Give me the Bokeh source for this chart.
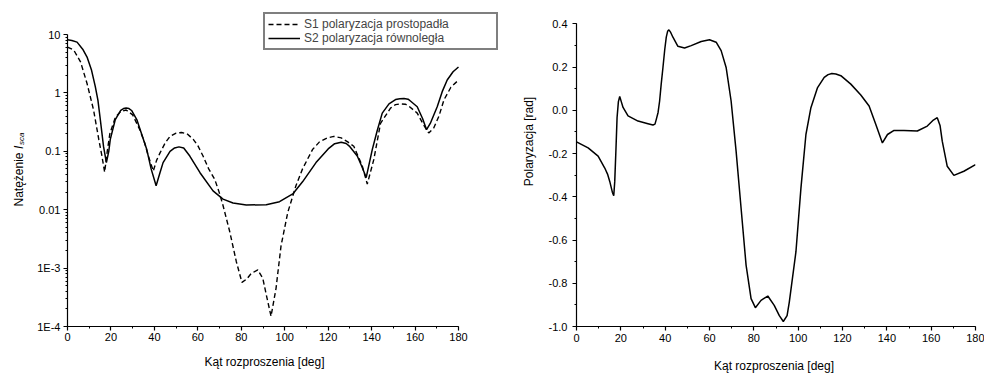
import math
from bokeh.plotting import figure
from bokeh.layouts import row, column
from bokeh.models import (Range1d, FixedTicker, SingleIntervalTicker, PrintfTickFormatter,
                          Legend, LegendItem, Label)
from bokeh.embed import file_html
from bokeh.resources import INLINE

# ---------------- data ----------------
s2_angle = [0, 2, 4.4, 7, 9, 11, 12.8, 14, 15.1, 16.6, 17.9, 19, 19.7, 22, 24.5, 25.8, 27, 28.3,
            29.5, 31.9, 34.5, 36.5, 38.5, 40.8, 42.5, 44, 47.2, 49.3, 51.3, 53.5, 56.3, 61, 67,
            71.6, 76.2, 82.3, 91.5, 97.6, 103.7, 108.2, 114.4, 120, 123, 126, 128.3, 130, 133.4,
            135.5, 137.5, 140.3, 142.5, 144.9, 148, 151, 153, 154.9, 156.8, 158, 161, 163.5,
            165.3, 167, 170.2, 172.5, 174.8, 177.5, 180]
s2_value = [8.1, 7.9, 7.4, 5.6, 4.1, 2.5, 1.28, 0.75, 0.35, 0.12, 0.064, 0.1, 0.16, 0.35, 0.5,
            0.54, 0.55, 0.54, 0.5, 0.35, 0.18, 0.107, 0.05, 0.0257, 0.042, 0.064, 0.1, 0.114,
            0.119, 0.114, 0.083, 0.043, 0.021, 0.0152, 0.013, 0.012, 0.0122, 0.0137, 0.0186,
            0.030, 0.064, 0.11, 0.135, 0.143, 0.136, 0.12, 0.083, 0.055, 0.0355, 0.107, 0.22,
            0.45, 0.65, 0.77, 0.795, 0.80, 0.78, 0.72, 0.58, 0.36, 0.234, 0.3, 0.58, 1.05, 1.66,
            2.3, 2.78]

s1_angle = [0, 2.9, 6, 9, 12, 14.4, 15.8, 17.1, 18.3, 19.5, 22, 24.5, 27, 30, 33.4, 35.5, 37.2,
            39.5, 41, 42.6, 45, 47.2, 50, 52.5, 55, 57.9, 60, 62.4, 65, 67.8, 69.8, 71.6, 74.7,
            77.7, 80.3, 82.5, 84.6, 87.6, 89.9, 91.9, 93.7, 96, 98.3, 101.4, 105.2, 108.2, 112.8,
            116, 119.7, 122.6, 126, 129, 131.8, 135.7, 138, 141, 144.1, 148.7, 151, 153.3,
            155.5, 157, 161, 164, 166.3, 168.6, 171, 173.3, 176.5, 180]
s1_value = [6.1, 5.4, 3.4, 1.45, 0.51, 0.16, 0.085, 0.044, 0.1, 0.2, 0.38, 0.48, 0.51, 0.42,
            0.23, 0.14, 0.083, 0.046, 0.07, 0.094, 0.14, 0.18, 0.205, 0.21, 0.2, 0.16, 0.125,
            0.083, 0.05, 0.033, 0.02, 0.0118, 0.0042, 0.0013, 5.7e-4, 6.5e-4, 8.1e-4, 9.3e-4,
            6.7e-4, 3.0e-4, 1.5e-4, 4.5e-4, 2.4e-3, 9e-3, 0.026, 0.05, 0.107, 0.145, 0.17, 0.18,
            0.17, 0.145, 0.122, 0.056, 0.0275, 0.072, 0.30, 0.55, 0.63, 0.65, 0.64, 0.6, 0.45,
            0.28, 0.206, 0.25, 0.4, 0.76, 1.25, 1.66]

pol_angle = [0, 5.25, 9.75, 12.75, 14, 15, 16.2, 16.8, 17.25, 17.8, 18.3, 18.9, 19.5, 20.2, 21,
             23.25, 27.75, 32.25, 34.5, 35.4, 36, 36.8, 37.5, 38.2, 39, 39.8, 40.5, 41.1, 41.7,
             42.5, 43.5, 45.75, 48.75, 51.75, 56.25, 60, 63, 65.25, 67.5, 69.75, 72, 74.25, 76.5,
             78.75, 80.7, 83.25, 86.3, 89.2, 91.5, 93.3, 95, 96, 99, 101.25, 103.5, 105.75,
             108.75, 111.75, 113.5, 115.2, 117, 119.25, 123.75, 128.25, 132, 135, 138, 140.3,
             143.25, 147.75, 153.75, 158.25, 161, 162.75, 164, 165, 167.25, 170.25, 174.75, 180]
pol_value = [-0.146, -0.174, -0.212, -0.267, -0.295, -0.329, -0.38, -0.395, -0.33, -0.18,
             -0.034, 0.04, 0.064, 0.04, 0.013, -0.026, -0.05, -0.062, -0.068, -0.064, -0.042,
             -0.01, 0.043, 0.12, 0.198, 0.28, 0.338, 0.365, 0.372, 0.36, 0.338, 0.296, 0.288,
             0.299, 0.318, 0.326, 0.315, 0.276, 0.198, 0.043, -0.189, -0.453, -0.716, -0.871,
             -0.913, -0.879, -0.859, -0.902, -0.95, -0.977, -0.95, -0.887, -0.654, -0.36, -0.112,
             0.012, 0.105, 0.152, 0.165, 0.170, 0.168, 0.160, 0.121, 0.071, 0.020, -0.065,
             -0.151, -0.112, -0.093, -0.093, -0.096, -0.073, -0.045, -0.034, -0.07, -0.143,
             -0.259, -0.301, -0.282, -0.251]

log_ticks = [1e-4, 1e-3, 1e-2, 1e-1, 1, 10]
log_tick_labels = ["1E-4", "1E-3", "0.01", "0.1", "1", "10"]
legend_labels = ["S1 polaryzacja prostopadła", "S2 polaryzacja równoległa"]
x_title = "Kąt rozproszenia [deg]"
y_title_left = ["Natężenie ", "I", "sca"]
y_title_right = "Polaryzacja [rad]"

FONT = "Liberation Sans"
TOP_H = 352          # height of the plot row
BOT_H = 373 - TOP_H  # strip holding the x-axis titles

# layout geometry (pixels). Both plot frames share top/bottom (Bokeh aligns them in a row);
# the visible axes are limited with "bounds" so they start/end where the reference's do.
FRAME_TOP = 5
FRAME_BOT = 326
L_TOP_AXIS = 34      # where "10" sits
R_TOP_AXIS = 23.3    # where "0.4" sits


def no_title(p):
    p.title = None
    p.title_location = None


def style_axes(p, label_standoff_x, label_standoff_y):
    for ax in (p.xaxis[0], p.yaxis[0]):
        ax.axis_line_width = 1.2
        ax.axis_line_color = "black"
        ax.major_tick_line_color = "black"
        ax.minor_tick_line_color = "black"
        ax.major_tick_line_width = 1.2
        ax.minor_tick_line_width = 1
        ax.major_tick_in = 0
        ax.major_tick_out = 4
        ax.minor_tick_in = 0
        ax.minor_tick_out = 2
        ax.major_label_text_font = FONT
        ax.major_label_text_font_size = "11px"
        ax.major_label_text_color = "black"
    p.xaxis[0].major_label_standoff = label_standoff_x
    p.yaxis[0].major_label_standoff = label_standoff_y
    p.xgrid.visible = False
    p.ygrid.visible = False
    p.outline_line_color = None
    no_title(p)


def text_panel(width, height, pieces):
    t = figure(width=width, height=height, output_backend="svg", toolbar_location=None,
               x_axis_location=None, y_axis_location=None, min_border=0,
               x_range=Range1d(0, 1), y_range=Range1d(0, 1))
    t.outline_line_color = None
    t.xgrid.visible = False
    t.ygrid.visible = False
    no_title(t)
    for (txt, x, y, size, style, align, angle) in pieces:
        t.add_layout(Label(x=x, y=y, x_units="screen", y_units="screen", text=txt,
                           angle=angle, text_align=align, text_baseline="middle",
                           text_font=FONT, text_font_size=size, text_font_style=style,
                           text_color="black"))
    return t


V = math.pi / 2
off = 373 - TOP_H  # screen y (from bottom) shift inside the top row

# ---------------- left title ----------------
t1 = text_panel(30, TOP_H, [
    (y_title_left[0], 18, 141 - off, "12px", "normal", "left", V),
    (y_title_left[1], 18, 198.5 - off, "12px", "italic", "left", V),
    (y_title_left[2], 21, 202.5 - off, "8px", "italic", "left", V),
])

# ---------------- left plot ----------------
PX_PER_DEG = 391 / 180.0
PX_PER_DEC = (FRAME_BOT - L_TOP_AXIS) / 5.0
p1 = figure(width=475, height=TOP_H, y_axis_type="log", output_backend="svg",
            toolbar_location=None,
            x_range=Range1d(0, 180 + 40 / PX_PER_DEG),
            y_range=Range1d(1e-4, 10 ** (1 + (L_TOP_AXIS - FRAME_TOP) / PX_PER_DEC)),
            min_border_left=37, min_border_right=7, min_border_top=FRAME_TOP,
            min_border_bottom=TOP_H - FRAME_BOT)
style_axes(p1, 2, 3)
p1.xaxis.ticker = SingleIntervalTicker(interval=20, num_minor_ticks=2)
p1.xaxis.bounds = (0, 180)
minor = [m * 10 ** d for d in range(-4, 1) for m in range(2, 10)]
p1.yaxis.ticker = FixedTicker(ticks=log_ticks, minor_ticks=minor)
p1.yaxis.bounds = (1e-4, 10)
p1.yaxis.major_label_overrides = {t: lab for t, lab in zip(log_ticks, log_tick_labels)}

r1 = p1.line(s1_angle, s1_value, line_color="black", line_width=1.4, line_dash="5 3")
r2 = p1.line(s2_angle, s2_value, line_color="black", line_width=1.5)

legend = Legend(items=[LegendItem(label=legend_labels[0], renderers=[r1]),
                       LegendItem(label=legend_labels[1], renderers=[r2])],
                location=(196, FRAME_BOT - 50), orientation="vertical",
                border_line_color="black", border_line_width=2.5,
                background_fill_color="white", background_fill_alpha=1,
                label_text_font=FONT, label_text_font_size="12px",
                glyph_width=32, glyph_height=14, label_height=14, label_width=189,
                label_standoff=4, padding=3, spacing=0, margin=0)
p1.add_layout(legend, "center")

# ---------------- right title ----------------
t2 = text_panel(40, TOP_H, [(y_title_right, 23, 206 - off, "12px", "normal", "center", V)])

# ---------------- right plot ----------------
PX_PER_UNIT = (FRAME_BOT - R_TOP_AXIS) / 1.4
p2 = figure(width=439, height=TOP_H, output_backend="svg", toolbar_location=None,
            x_range=Range1d(0, 180),
            y_range=Range1d(-1.0, 0.4 + (R_TOP_AXIS - FRAME_TOP) / PX_PER_UNIT),
            min_border_left=30, min_border_right=9, min_border_top=FRAME_TOP,
            min_border_bottom=TOP_H - FRAME_BOT)
style_axes(p2, 3, 5)
p2.xaxis.ticker = SingleIntervalTicker(interval=20, num_minor_ticks=2)
p2.yaxis.ticker = SingleIntervalTicker(interval=0.2, num_minor_ticks=2)
p2.yaxis.bounds = (-1.0, 0.4)
p2.yaxis.formatter = PrintfTickFormatter(format="%.1f")

p2.line(pol_angle, pol_value, line_color="black", line_width=1.5)

# ---------------- x-axis titles strip ----------------
b1 = text_panel(505, BOT_H, [(x_title, 264, BOT_H - 9, "12px", "normal", "center", 0)])
b2 = text_panel(479, BOT_H, [(x_title, 268.5, BOT_H - 13, "12px", "normal", "center", 0)])

layout = column(row(t1, p1, t2, p2), row(b1, b2))
open("out.html", "w").write(file_html(layout, INLINE))
